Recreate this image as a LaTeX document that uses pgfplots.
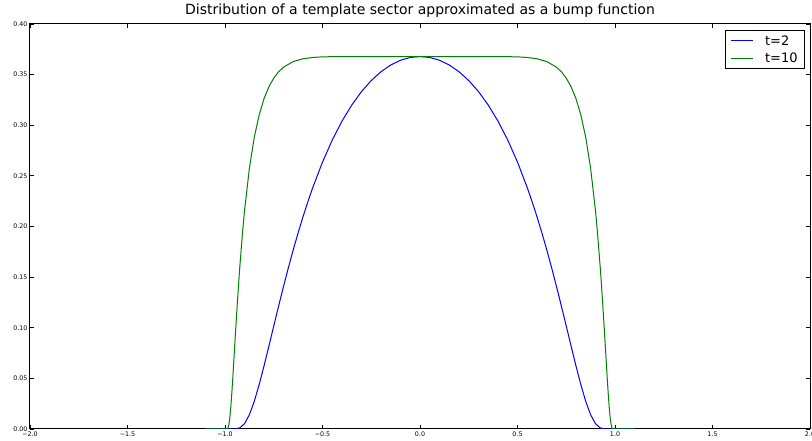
\documentclass[border=0pt]{standalone}
\usepackage{fontspec}
\setmainfont{DejaVu Sans}
\usepackage{pgfplots}
\pgfplotsset{compat=1.18}
\definecolor{mplblue}{rgb}{0,0,1}
\definecolor{mplgreen}{rgb}{0,0.5,0}
\begin{document}
\begin{tikzpicture}
\begin{axis}[
  at={(0,0)}, anchor=south west,
  scale only axis, width=780pt, height=405pt,
  xmin=-2, xmax=2, ymin=0, ymax=0.40,
  xtick={-2,-1.5,-1,-0.5,0,0.5,1,1.5,2},
  xticklabels={−2.0,−1.5,−1.0,−0.5,0.0,0.5,1.0,1.5,2.0},
  ytick={0,0.05,0.10,0.15,0.20,0.25,0.30,0.35,0.40},
  yticklabels={0.00,0.05,0.10,0.15,0.20,0.25,0.30,0.35,0.40},
  tick align=inside, major tick length=4pt,
  tick style={black, line width=0.8pt},
  axis line style={black, line width=1pt},
  ticklabel style={font=\fontsize{6.3}{7}\selectfont},
  xticklabel style={yshift=1pt},
  yticklabel style={xshift=1pt},
  title={Distribution of a template sector approximated as a bump function},
  title style={font=\fontsize{14}{16}\selectfont, yshift=-3pt},
  legend style={at={(1,1)}, anchor=north east, xshift=-5pt, yshift=-6pt,
    font=\fontsize{13}{15}\selectfont, line width=0.8pt,
    inner xsep=5pt, inner ysep=3pt, row sep=2pt},
  legend cell align=left,
  legend image code/.code={\draw[#1, line width=1pt] (0pt,0pt) -- (22pt,0pt);},
  every axis plot/.append style={line width=1pt},
]
\addplot[draw=mplblue, color=mplblue] coordinates {
(-1.1,0) (-1.0,0) (-0.975,0.0000000016) (-0.95,0.0000351) (-0.925,0.0009815)
(-0.9,0.005179) (-0.875,0.014029) (-0.85,0.027224) (-0.825,0.043669) (-0.8,0.062175)
(-0.775,0.081765) (-0.75,0.10170) (-0.725,0.121475) (-0.7,0.14075) (-0.675,0.15930)
(-0.65,0.17700) (-0.625,0.19378) (-0.6,0.209611) (-0.575,0.22449) (-0.55,0.23842)
(-0.5,0.263597) (-0.45,0.28539) (-0.4,0.30407) (-0.35,0.31995) (-0.3,0.33324)
(-0.25,0.34415) (-0.2,0.35287) (-0.15,0.35951) (-0.1,0.364182) (-0.05,0.366958)
(0,0.367879)
(0.05,0.366958) (0.1,0.364182) (0.15,0.35951) (0.2,0.35287) (0.25,0.34415)
(0.3,0.33324) (0.35,0.31995) (0.4,0.30407) (0.45,0.28539) (0.5,0.263597)
(0.55,0.23842) (0.575,0.22449) (0.6,0.209611) (0.625,0.19378) (0.65,0.17700)
(0.675,0.15930) (0.7,0.14075) (0.725,0.121475) (0.75,0.10170) (0.775,0.081765)
(0.8,0.062175) (0.825,0.043669) (0.85,0.027224) (0.875,0.014029) (0.9,0.005179)
(0.925,0.0009815) (0.95,0.0000351) (0.975,0.0000000016) (1.0,0) (1.1,0)
};
\addlegendentry{\hspace*{10pt}t=2}
\addplot[draw=mplgreen, color=mplgreen] coordinates {
(-1.1,0) (-1.0,0) (-0.995,0.0000000013) (-0.99,0.0000287) (-0.985,0.000801)
(-0.98,0.004225) (-0.975,0.011437) (-0.97,0.022183) (-0.965,0.035564) (-0.96,0.050611)
(-0.955,0.066532) (-0.95,0.082733) (-0.945,0.098805) (-0.94,0.11448) (-0.93,0.14400)
(-0.925,0.15770) (-0.91,0.19441) (-0.9,0.21539) (-0.875,0.25745) (-0.85,0.28791)
(-0.825,0.31004) (-0.8,0.32619) (-0.775,0.33797) (-0.75,0.34657) (-0.725,0.35282)
(-0.7,0.35734) (-0.65,0.36289) (-0.6,0.36565) (-0.55,0.36695) (-0.5,0.36752)
(-0.45,0.36775) (-0.4,0.36784) (-0.3,0.367877) (0,0.367879)
(0.3,0.367877) (0.4,0.36784) (0.45,0.36775) (0.5,0.36752) (0.55,0.36695)
(0.6,0.36565) (0.65,0.36289) (0.7,0.35734) (0.725,0.35282) (0.75,0.34657)
(0.775,0.33797) (0.8,0.32619) (0.825,0.31004) (0.85,0.28791) (0.875,0.25745)
(0.9,0.21539) (0.91,0.19441) (0.925,0.15770) (0.93,0.14400) (0.94,0.11448)
(0.945,0.098805) (0.95,0.082733) (0.955,0.066532) (0.96,0.050611) (0.965,0.035564)
(0.97,0.022183) (0.975,0.011437) (0.98,0.004225) (0.985,0.000801) (0.99,0.0000287)
(0.995,0.0000000013) (1.0,0) (1.1,0)
};
\addlegendentry{\hspace*{10pt}t=10}
\end{axis}
\pgfresetboundingbox
\path (-30pt,-12pt) rectangle (782pt,429pt);
\end{tikzpicture}
\end{document}
